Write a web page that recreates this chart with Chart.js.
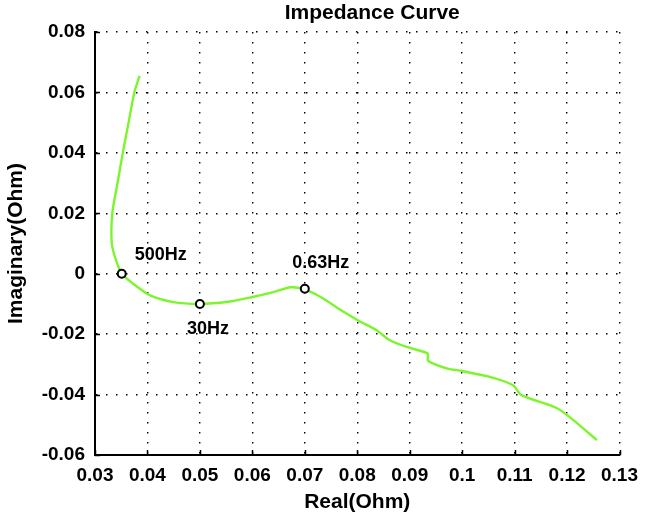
<!DOCTYPE html>
<html>
<head>
<meta charset="utf-8">
<script src="https://cdn.jsdelivr.net/npm/chart.js@4/dist/chart.umd.min.js"></script>
<style>
  html, body { margin: 0; padding: 0; background: #ffffff; }
  #wrap { width: 647px; height: 519px; position: relative; }
</style>
</head>
<body>
<div id="wrap"><canvas id="c"></canvas></div>
<script>
// ---- data ----
const titleText = 'Impedance Curve';
const xTitle = 'Real(Ohm)';
const yTitle = 'Imaginary(Ohm)';

const realValues = [0.0385, 0.0375, 0.0364, 0.0353, 0.0343, 0.0333, 0.0332, 0.0340, 0.0351, 0.0372, 0.0404, 0.0447, 0.0498, 0.0554, 0.0598, 0.0642, 0.0673, 0.0699, 0.0730, 0.0774, 0.0805, 0.0837, 0.0862, 0.0899, 0.0934, 0.0935, 0.0972, 0.1000, 0.1056, 0.1097, 0.1113, 0.1182, 0.1220, 0.1257];
const imagValues = [0.0655, 0.0600, 0.0500, 0.0400, 0.0300, 0.0200, 0.0100, 0.0045, 0.0000, -0.0032, -0.0071, -0.0093, -0.0100, -0.0093, -0.0078, -0.0060, -0.0045, -0.0052, -0.0077, -0.0126, -0.0158, -0.0187, -0.0220, -0.0245, -0.0264, -0.0288, -0.0314, -0.0322, -0.0343, -0.0369, -0.0402, -0.0446, -0.0496, -0.0551];

const markerReal = [0.0351, 0.0500, 0.0700];
const markerImag = [0.0000, -0.0100, -0.0050];
const markerLabels = ['500Hz', '30Hz', '0.63Hz'];

const xTickValues = [0.03, 0.04, 0.05, 0.06, 0.07, 0.08, 0.09, 0.10, 0.11, 0.12, 0.13];
const xTickLabels = ['0.03', '0.04', '0.05', '0.06', '0.07', '0.08', '0.09', '0.1', '0.11', '0.12', '0.13'];
const yTickValues = [-0.06, -0.04, -0.02, 0, 0.02, 0.04, 0.06, 0.08];
const yTickLabels = ['-0.06', '-0.04', '-0.02', '0', '0.02', '0.04', '0.06', '0.08'];

// ---- chart ----
const FONT = "'Liberation Sans', Arial, Helvetica, sans-serif";
const curvePoints = realValues.map((x, i) => ({ x: x, y: imagValues[i] }));
const markerPoints = markerReal.map((x, i) => ({ x: x, y: markerImag[i] }));

const decorPlugin = {
  id: 'decor',
  afterDraw(chart) {
    const ctx = chart.ctx;
    const xs = chart.scales.x, ys = chart.scales.y;
    const area = chart.chartArea;
    ctx.save();
    // inward tick marks
    ctx.strokeStyle = '#000';
    ctx.lineWidth = 1.5;
    ctx.beginPath();
    xTickValues.forEach(v => {
      const px = Math.round(xs.getPixelForValue(v)) + 0.5;
      ctx.moveTo(px, area.bottom);
      ctx.lineTo(px, area.bottom - 5);
    });
    yTickValues.forEach(v => {
      const py = Math.round(ys.getPixelForValue(v)) + 0.5;
      ctx.moveTo(area.left, py);
      ctx.lineTo(area.left + 5, py);
    });
    ctx.stroke();
    // title
    ctx.fillStyle = '#000';
    ctx.font = 'bold 21px ' + FONT;
    ctx.textAlign = 'center';
    ctx.textBaseline = 'alphabetic';
    ctx.fillText(titleText, (area.left + area.right) / 2 + 15, 19);
    // frequency labels
    ctx.font = 'bold 18px ' + FONT;
    ctx.textBaseline = 'middle';
    const offs = [
      { dx: 13, dy: -19, align: 'left' },
      { dx: 8, dy: 25, align: 'center' },
      { dx: 16, dy: -26, align: 'center' }
    ];
    markerLabels.forEach((t, i) => {
      const px = xs.getPixelForValue(markerReal[i]);
      const py = ys.getPixelForValue(markerImag[i]);
      ctx.textAlign = offs[i].align;
      ctx.fillText(t, px + offs[i].dx, py + offs[i].dy);
    });
    ctx.restore();
  }
};

new Chart(document.getElementById('c'), {
  type: 'scatter',
  data: {
    datasets: [
      {
        label: 'Impedance',
        data: curvePoints,
        showLine: true,
        borderColor: 'rgb(125,245,45)',
        borderWidth: 2.4,
        pointRadius: 0,
        tension: 0.25,
        order: 2
      },
      {
        label: 'Frequencies',
        data: markerPoints,
        showLine: false,
        pointRadius: 4,
        pointBorderWidth: 2,
        pointBorderColor: '#000',
        pointBackgroundColor: '#fff',
        order: 1
      }
    ]
  },
  options: {
    responsive: true,
    maintainAspectRatio: false,
    animation: false,
    layout: { padding: { top: 32, right: 21, bottom: 0, left: 0 } },
    plugins: {
      legend: { display: false },
      tooltip: { enabled: false },
      title: { display: false }
    },
    scales: {
      x: {
        type: 'linear',
        min: 0.03,
        max: 0.13,
        afterBuildTicks(scale) { scale.ticks = xTickValues.map(v => ({ value: v })); },
        afterFit(scale) { scale.height = 64; },
        ticks: {
          callback: (v, i) => xTickLabels[i],
          color: '#000',
          font: { family: FONT, size: 19, weight: 'bold' },
          padding: 9,
          maxRotation: 0,
          autoSkip: false
        },
        grid: { color: '#000', lineWidth: 1.4, drawTicks: false },
        border: { display: true, color: '#000', width: 2, dash: [1.5, 8.5] },
        title: {
          display: true,
          text: xTitle,
          color: '#000',
          font: { family: FONT, size: 21, weight: 'bold' },
          padding: { top: 0, bottom: 4 }
        }
      },
      y: {
        type: 'linear',
        min: -0.06,
        max: 0.08,
        afterBuildTicks(scale) { scale.ticks = yTickValues.map(v => ({ value: v })); },
        afterFit(scale) { scale.width = 95; },
        ticks: {
          callback: (v, i) => yTickLabels[i],
          color: '#000',
          font: { family: FONT, size: 19, weight: 'bold' },
          padding: 10,
          autoSkip: false
        },
        grid: { color: '#000', lineWidth: 1.4, drawTicks: false },
        border: { display: true, color: '#000', width: 2, dash: [1.5, 8.5] },
        title: {
          display: true,
          text: yTitle,
          color: '#000',
          font: { family: FONT, size: 21, weight: 'bold' },
          padding: { top: 4, bottom: 0 }
        }
      }
    }
  },
  plugins: [decorPlugin]
});
</script>
</body>
</html>
